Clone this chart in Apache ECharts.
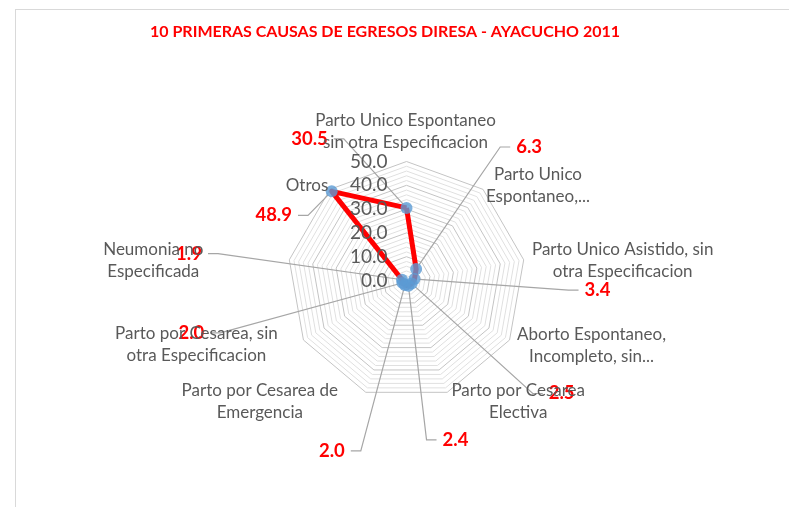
<!DOCTYPE html>
<html>
<head>
<meta charset="utf-8">
<script src="https://cdn.jsdelivr.net/npm/echarts@6/dist/echarts.min.js"></script>
<style>
  html, body { margin: 0; padding: 0; background: #ffffff; }
  #frame { position: absolute; left: 15px; top: 9px; width: 800px; height: 520px; border-left: 1px solid #d9d9d9; border-top: 1px solid #d9d9d9; z-index: 0; }
  #chart { position: absolute; left: 0; top: 0; width: 789px; height: 507px; z-index: 1; }
</style>
</head>
<body>
<div id="frame"></div>
<div id="chart"></div>
<script>
// ---- data ----
const chartTitle = '10 PRIMERAS CAUSAS DE EGRESOS DIRESA - AYACUCHO 2011';
const categories = [
  'Parto Unico Espontaneo\nsin otra Especificacion',
  'Parto Unico\nEspontaneo,...',
  'Parto Unico Asistido, sin\notra Especificacion',
  'Aborto Espontaneo,\nIncompleto, sin...',
  'Parto por Cesarea\nElectiva',
  'Parto por Cesarea de\nEmergencia',
  'Parto por Cesarea, sin\notra Especificacion',
  'Neumonia no\nEspecificada',
  'Otros'
];
const values = [30.5, 6.3, 3.4, 2.5, 2.4, 2.0, 2.0, 1.9, 48.9];
const axisMin = 0;
const axisMax = 50;
const axisLabelInterval = 10;
const axisGridStep = 2;

// ---- layout (label offsets, px, relative to the library-computed anchor) ----
const valueLabelOffsets = [[-97, -69], [113, -122], [183, 11], [150, 110], [47, 154], [-73, 166], [-211, 50], [-213, -26], [-58, 24]];
const nameOffsets = [[-1, -30], [55, -4], [99, 1], [82, 6], [71, 9], [-106, 9], [-107, 5], [-136, 1], [-23, -4]];

const FONT = 'Lato, "Open Sans", sans-serif';
const CENTER = [406.5, 280.5];
const RADIUS = 119;

const measureCtx = document.createElement('canvas').getContext('2d');
function textWidth(t, font) { measureCtx.font = font; return measureCtx.measureText(t).width; }

const n = categories.length;
// ECharts radar lays indicators counter-clockwise; Excel goes clockwise
const radarOrder = [0].concat(Array.from({length: n - 1}, (_, k) => n - 1 - k));

const chart = echarts.init(document.getElementById('chart'), null, {renderer: 'canvas'});

const majorEvery = axisLabelInterval / axisGridStep;
const ringColors = Array.from({length: majorEvery}, (_, k) => k === 0 ? '#c4c4c4' : '#e0e0e0');

const option = {
  animation: false,
  title: {
    text: chartTitle,
    left: 150,
    top: 24,
    padding: 0,
    textStyle: { color: '#ff0000', fontWeight: 'bold', fontSize: 16, fontFamily: FONT }
  },
  radar: {
    center: CENTER,
    radius: RADIUS,
    startAngle: 90,
    shape: 'polygon',
    splitNumber: (axisMax - axisMin) / axisGridStep,
    indicator: radarOrder.map(i => ({ name: categories[i], min: axisMin, max: axisMax })),
    axisName: { show: false },
    axisLine: { show: false },
    axisTick: { show: false },
    axisLabel: { show: false },
    splitArea: { show: false },
    splitLine: { lineStyle: { color: ringColors, width: 1 } }
  },
  polar: { center: CENTER, radius: RADIUS },
  angleAxis: {
    type: 'value', min: 0, max: n, startAngle: 90, clockwise: true,
    show: false
  },
  radiusAxis: {
    type: 'value', min: axisMin, max: axisMax, interval: axisLabelInterval,
    axisLine: { show: false }, axisTick: { show: false }, splitLine: { show: false },
    axisLabel: {
      show: true, margin: 19, color: '#595959', fontSize: 19, fontFamily: FONT,
      formatter: v => v.toFixed(1)
    },
    z: 5
  },
  series: [
    {
      type: 'radar',
      symbol: 'none',
      lineStyle: { color: '#ff0000', width: 5 },
      data: [{ value: radarOrder.map(i => values[i]) }],
      z: 2
    },
    {
      // leader lines + data labels
      type: 'custom',
      coordinateSystem: 'polar',
      encode: { radius: 0, angle: 1 },
      data: values.map((v, i) => [v, i]),
      z: 3,
      renderItem: function (params, api) {
        const i = params.dataIndex;
        const p = api.coord([api.value(0), api.value(1)]);
        const off = valueLabelOffsets[i];
        const cx = p[0] + off[0], cy = p[1] + off[1];
        const txt = values[i].toFixed(1);
        const font = 'bold 18.5px ' + FONT;
        const w = textWidth(txt, font);
        const side = off[0] >= 0 ? -1 : 1;
        const edgeX = cx + side * (w / 2 + 6);
        const elbowX = edgeX + side * 10;
        const dx = elbowX - p[0], dy = cy - p[1];
        const len = Math.hypot(dx, dy) || 1;
        const sx = p[0] + dx / len * 5, sy = p[1] + dy / len * 5;
        return {
          type: 'group',
          children: [
            { type: 'polyline', shape: { points: [[sx, sy], [elbowX, cy], [edgeX, cy]] },
              style: { stroke: '#a6a6a6', lineWidth: 1.2, fill: null }, z2: 1 },
            { type: 'text', z2: 20,
              style: { text: txt, x: cx, y: cy, align: 'center', verticalAlign: 'middle',
                       fill: '#ff0000', fontSize: 18.5, fontWeight: 'bold', fontFamily: FONT } }
          ]
        };
      }
    },
    {
      type: 'scatter',
      coordinateSystem: 'polar',
      data: values.map((v, i) => [v, i]),
      symbol: 'circle',
      symbolSize: 12,
      itemStyle: { color: '#5b9bd5' },
      z: 4
    },
    {
      // category names
      type: 'custom',
      coordinateSystem: 'polar',
      encode: { radius: 0, angle: 1 },
      data: categories.map((c, i) => [axisMax, i]),
      z: 6,
      renderItem: function (params, api) {
        const i = params.dataIndex;
        const p = api.coord([api.value(0), api.value(1)]);
        const off = nameOffsets[i];
        return {
          type: 'text',
          style: { text: categories[i], x: p[0] + off[0], y: p[1] + off[1],
                   align: 'center', verticalAlign: 'middle', lineHeight: 22,
                   fill: '#595959', fontSize: 17, fontFamily: FONT }
        };
      }
    }
  ]
};
chart.setOption(option);
</script>
</body>
</html>
